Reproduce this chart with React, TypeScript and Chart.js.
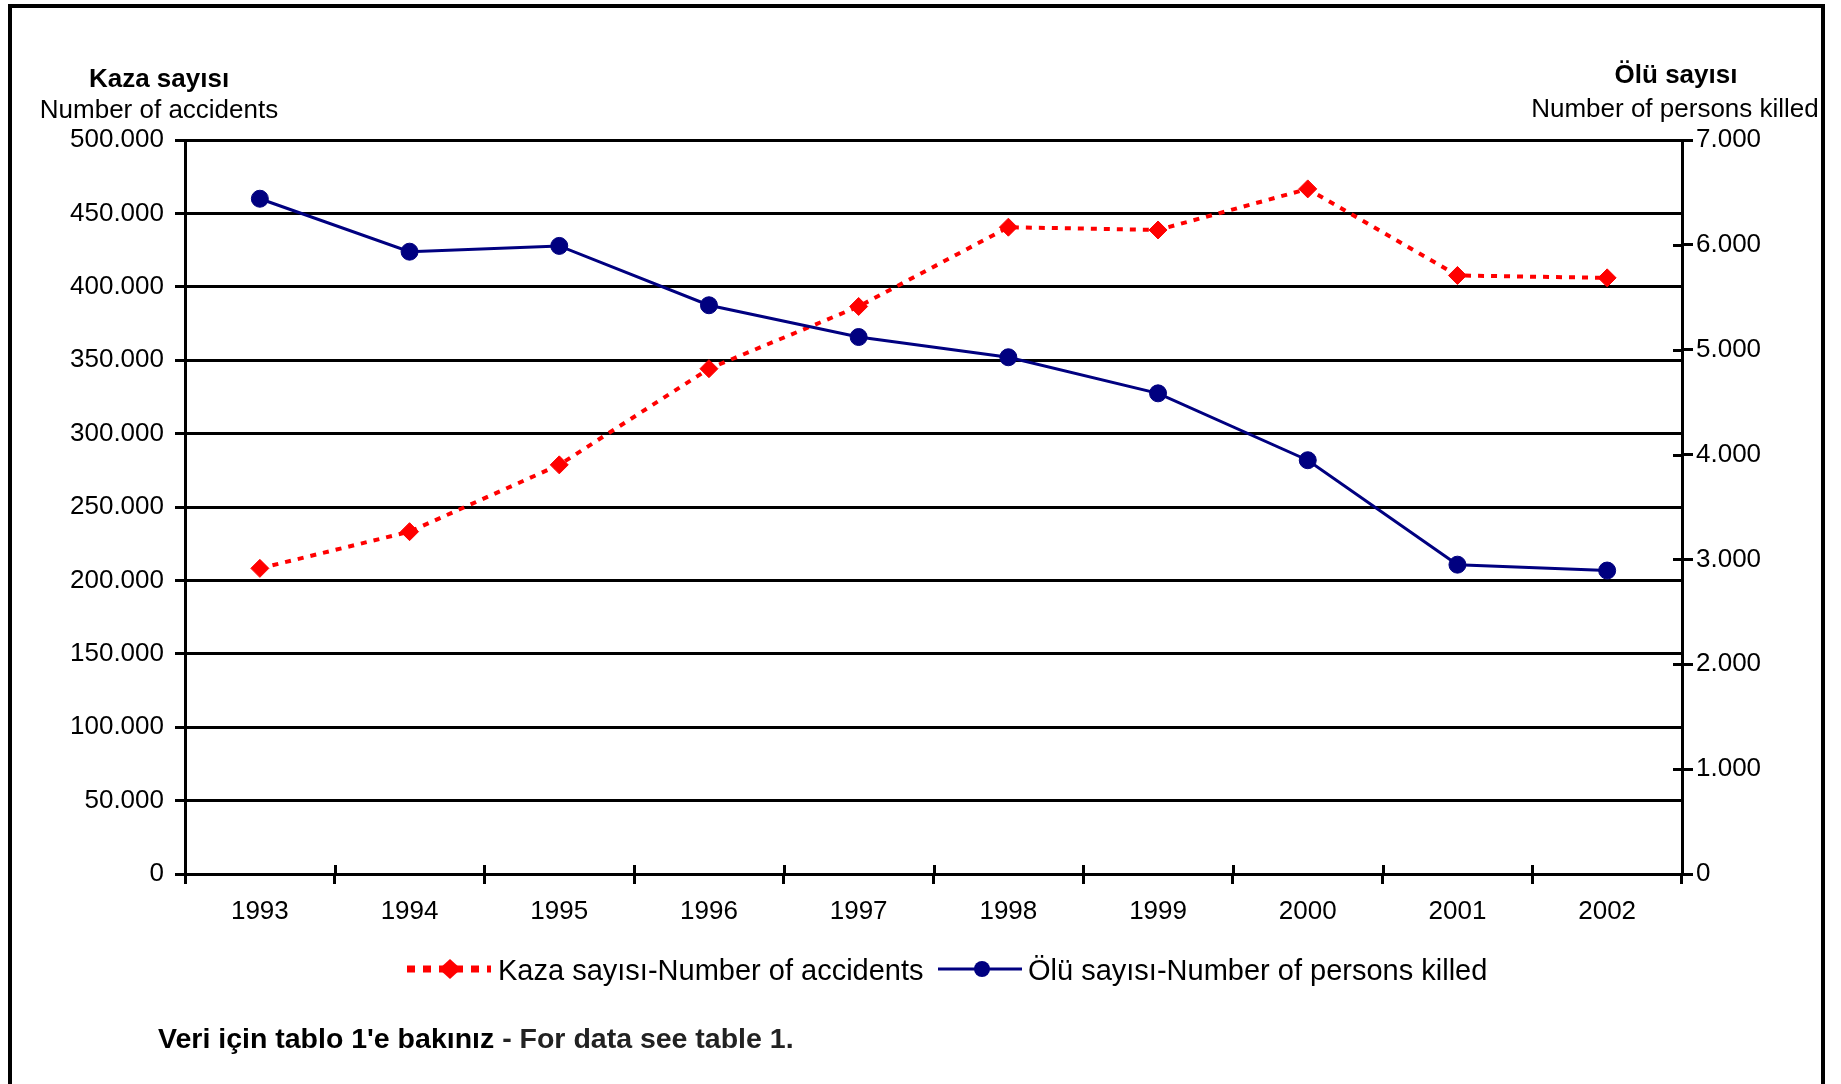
import React, { useEffect, useRef } from 'react';
import { Chart, registerables } from 'chart.js';

Chart.register(...registerables);

// Yearly road traffic figures
const years = ['1993', '1994', '1995', '1996', '1997', '1998', '1999', '2000', '2001', '2002'];
const accidents = [208200, 233200, 278700, 344200, 386600, 440600, 438700, 466700, 407700, 406100];
const killed = [6440, 5935, 5990, 5424, 5121, 4928, 4584, 3946, 2950, 2894];

const accidentsTicks = { min: 0, max: 500000, step: 50000 };
const killedTicks = { min: 0, max: 7000, step: 1000 };

const leftTitle = ['Kaza sayısı', 'Number of accidents'];
const rightTitle = ['Ölü sayısı', 'Number of persons killed'];
const accidentsLabel = 'Kaza sayısı-Number of accidents';
const killedLabel = 'Ölü sayısı-Number of persons killed';
const noteBold = "Veri için tablo 1'e bakınız";
const noteRest = ' - For data see table 1.';

const RED = '#ff0000';
const NAVY = '#000080';
const FONT = '"Liberation Sans", Arial, Helvetica, sans-serif';

const W = 1841;
const H = 1084;

// 500000 -> "500.000"
const dotted = (v: number) => String(Math.round(v)).replace(/\B(?=(\d{3})+(?!\d))/g, '.');

const drawDiamond = (ctx: CanvasRenderingContext2D, cx: number, cy: number, rx: number, ry: number) => {
  ctx.beginPath();
  ctx.moveTo(cx, cy - ry);
  ctx.lineTo(cx + rx, cy);
  ctx.lineTo(cx, cy + ry);
  ctx.lineTo(cx - rx, cy);
  ctx.closePath();
  ctx.fill();
};

const decor = {
  id: 'decor',
  afterDraw(chart: any) {
    const { ctx, scales } = chart;
    const x = scales.x;
    const y1 = scales.y1;
    ctx.save();

    // inner halves of the crossing tick marks
    ctx.strokeStyle = '#000';
    ctx.lineWidth = 3;
    ctx.beginPath();
    for (let i = 0; i <= years.length; i++) {
      const px = Math.round(x.getPixelForDecimal(i / years.length)) + 0.5;
      ctx.moveTo(px, x.top - 9);
      ctx.lineTo(px, x.top);
    }
    for (let v = killedTicks.min; v <= killedTicks.max; v += killedTicks.step) {
      const py = Math.round(y1.getPixelForValue(v)) + 0.5;
      ctx.moveTo(y1.left - 9, py);
      ctx.lineTo(y1.left, py);
    }
    ctx.stroke();

    // frame
    ctx.lineWidth = 4;
    ctx.strokeRect(10, 6, 1813, 1300);

    ctx.fillStyle = '#000';
    ctx.textBaseline = 'alphabetic';
    ctx.textAlign = 'center';

    // axis titles
    ctx.font = `bold 26px ${FONT}`;
    ctx.fillText(leftTitle[0], 159, 87);
    ctx.fillText(rightTitle[0], 1676, 83);
    ctx.font = `26px ${FONT}`;
    ctx.fillText(leftTitle[1], 159, 118);
    ctx.fillText(rightTitle[1], 1675, 117);

    // legend
    const ly = 969;
    ctx.strokeStyle = RED;
    ctx.lineWidth = 7;
    ctx.setLineDash([8, 8]);
    ctx.beginPath();
    ctx.moveTo(407, ly);
    ctx.lineTo(491, ly);
    ctx.stroke();
    ctx.setLineDash([]);
    ctx.fillStyle = RED;
    drawDiamond(ctx, 450, ly, 11, 10);

    ctx.strokeStyle = NAVY;
    ctx.lineWidth = 3;
    ctx.beginPath();
    ctx.moveTo(938, ly);
    ctx.lineTo(1022, ly);
    ctx.stroke();
    ctx.fillStyle = NAVY;
    ctx.beginPath();
    ctx.arc(982, ly, 8, 0, Math.PI * 2);
    ctx.fill();

    ctx.fillStyle = '#000';
    ctx.textAlign = 'left';
    ctx.font = `29px ${FONT}`;
    ctx.fillText(accidentsLabel, 498, 980);
    ctx.fillText(killedLabel, 1028, 980);

    // note
    ctx.font = `bold 28.5px ${FONT}`;
    ctx.fillText(noteBold, 158, 1048);
    const wb = ctx.measureText(noteBold).width;
    ctx.fillStyle = '#222';
    ctx.fillText(noteRest, 158 + wb, 1048);

    ctx.restore();
  },
};

export default function App() {
  const ref = useRef<HTMLCanvasElement>(null);

  useEffect(() => {
    if (!ref.current) return;
    const tickFont = { family: FONT, size: 26 };
    const chart = new Chart(ref.current, {
      type: 'line',
      data: {
        labels: years,
        datasets: [
          {
            label: accidentsLabel,
            data: accidents,
            yAxisID: 'y',
            borderColor: RED,
            backgroundColor: RED,
            borderWidth: 4,
            borderDash: [6, 7],
            pointStyle: 'rectRot',
            pointRadius: 9,
            pointBorderWidth: 1,
            tension: 0,
            order: 1,
          },
          {
            label: killedLabel,
            data: killed,
            yAxisID: 'y1',
            borderColor: NAVY,
            backgroundColor: NAVY,
            borderWidth: 3,
            pointStyle: 'circle',
            pointRadius: 8.5,
            pointBorderWidth: 1,
            tension: 0,
            order: 0,
          },
        ],
      },
      options: {
        animation: false,
        responsive: false,
        devicePixelRatio: 1,
        layout: { padding: { top: 140, left: 0, right: 0, bottom: 0 } },
        plugins: {
          legend: { display: false },
          title: { display: false },
          tooltip: { enabled: false },
        },
        scales: {
          x: {
            type: 'category',
            position: 'bottom',
            offset: true,
            grid: {
              offset: true,
              drawOnChartArea: false,
              drawTicks: true,
              tickLength: 10,
              color: '#000',
              lineWidth: 3,
            },
            border: { display: true, color: '#000', width: 3 },
            ticks: { font: tickFont, color: '#000', padding: 12, maxRotation: 0, autoSkip: false },
            afterFit: (s: any) => {
              s.height = 210;
            },
          },
          y: {
            position: 'left',
            min: accidentsTicks.min,
            max: accidentsTicks.max,
            grid: { color: '#000', lineWidth: 3, drawTicks: true, tickLength: 10 },
            border: { display: true, color: '#000', width: 3 },
            ticks: {
              stepSize: accidentsTicks.step,
              font: tickFont,
              color: '#000',
              padding: 11,
              callback: (v: any) => dotted(Number(v)),
            },
            afterFit: (s: any) => {
              s.width = 185;
            },
          },
          y1: {
            position: 'right',
            min: killedTicks.min,
            max: killedTicks.max,
            grid: { drawOnChartArea: false, color: '#000', lineWidth: 3, drawTicks: true, tickLength: 11 },
            border: { display: true, color: '#000', width: 3 },
            ticks: {
              stepSize: killedTicks.step,
              font: tickFont,
              color: '#000',
              padding: 3,
              callback: (v: any) => dotted(Number(v)),
            },
            afterFit: (s: any) => {
              s.width = W - 1682;
            },
          },
        },
      },
      plugins: [decor],
    });
    return () => chart.destroy();
  }, []);

  return (
    <div style={{ position: 'fixed', left: 0, top: 0, width: W, height: H, background: '#fff', overflow: 'hidden' }}>
      <canvas ref={ref} width={W} height={H} style={{ display: 'block', width: W, height: H }} />
    </div>
  );
}
